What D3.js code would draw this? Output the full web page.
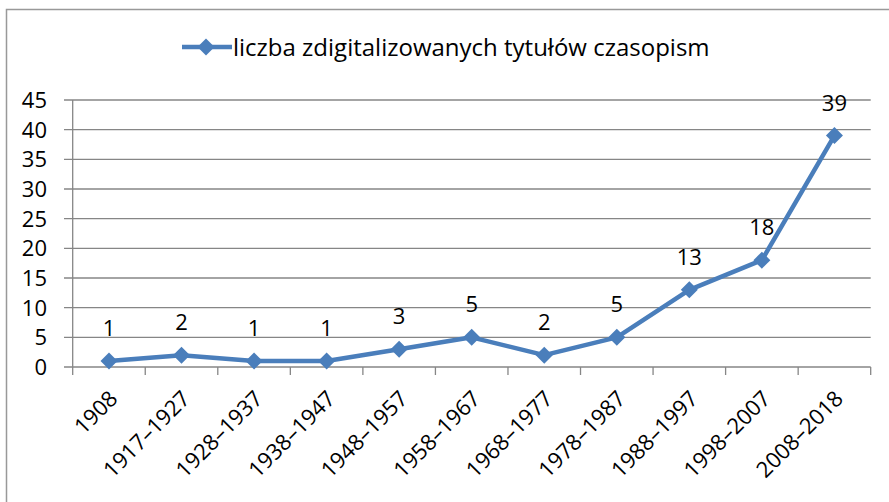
<!DOCTYPE html>
<html>
<head>
<meta charset="utf-8">
<script src="https://cdn.jsdelivr.net/npm/d3@7"></script>
<style>
  body { margin: 0; background: #fff; }
  text { font-family: "Open Sans", sans-serif; fill: #000; }
</style>
</head>
<body>
<script>
const categories = ["1908", "1917–1927", "1928–1937", "1938–1947", "1948–1957", "1958–1967",
                    "1968–1977", "1978–1987", "1988–1997", "1998–2007", "2008–2018"];
const values = [1, 2, 1, 1, 3, 5, 2, 5, 13, 18, 39];
const yTicks = [0, 5, 10, 15, 20, 25, 30, 35, 40, 45];
const seriesName = "liczba zdigitalizowanych tytułów czasopism";

const width = 889;
const height = 502;
const blue = "#4A7EBB";
const grid = "#868686";

const svg = d3.select("body").append("svg")
  .attr("width", width)
  .attr("height", height);

// chart frame (only left and top edges are inside the picture)
svg.append("path")
  .attr("d", "M6.5,502V9.5H889")
  .attr("fill", "none")
  .attr("stroke", "#999")
  .attr("stroke-width", 1.5);

const x = d3.scaleBand()
  .domain(categories)
  .range([72.7, 870.7]);

const y = d3.scaleLinear()
  .domain([0, 45])
  .range([367, 100]);

// gridlines + y ticks
svg.append("g")
  .selectAll("line")
  .data(yTicks)
  .join("line")
  .attr("x1", 64)
  .attr("x2", 870.7)
  .attr("y1", d => y(d))
  .attr("y2", d => y(d))
  .attr("stroke", grid)
  .attr("stroke-width", 1.3);

svg.append("g")
  .selectAll("text")
  .data(yTicks)
  .join("text")
  .attr("x", 47)
  .attr("y", d => y(d))
  .attr("dy", "0.36em")
  .attr("text-anchor", "end")
  .attr("font-size", 22)
  .text(d => d);

// y axis line
svg.append("line")
  .attr("x1", 72.7).attr("x2", 72.7)
  .attr("y1", y(45)).attr("y2", y(0))
  .attr("stroke", grid)
  .attr("stroke-width", 1.3);

// x axis tick marks at category boundaries
const bounds = categories.map(c => x(c)).concat([x.range()[1]]);
svg.append("g")
  .selectAll("line")
  .data(bounds)
  .join("line")
  .attr("x1", d => d).attr("x2", d => d)
  .attr("y1", y(0)).attr("y2", y(0) + 8)
  .attr("stroke", grid)
  .attr("stroke-width", 1.3);

// x labels, rotated
svg.append("g")
  .selectAll("text")
  .data(categories)
  .join("text")
  .attr("text-anchor", "end")
  .attr("font-size", 22)
  .attr("transform", d => `translate(${x(d) + x.bandwidth() / 2 + 10},${y(0) + 33}) rotate(-45)`)
  .text(d => d);

// series line
const cx = d => x(d) + x.bandwidth() / 2;
const pts = categories.map((c, i) => [cx(c), y(values[i])]);

svg.append("path")
  .attr("d", d3.line()(pts))
  .attr("fill", "none")
  .attr("stroke", blue)
  .attr("stroke-width", 4.5)
  .attr("stroke-linejoin", "round");

const diamond = (px, py, r) => `M${px},${py - r}L${px + r},${py}L${px},${py + r}L${px - r},${py}Z`;

svg.append("g")
  .selectAll("path")
  .data(pts)
  .join("path")
  .attr("d", d => diamond(d[0], d[1], 8.5))
  .attr("fill", blue);

// data labels
svg.append("g")
  .selectAll("text")
  .data(values)
  .join("text")
  .attr("x", (d, i) => cx(categories[i]))
  .attr("y", d => y(d) - 25)
  .attr("text-anchor", "middle")
  .attr("font-size", 22)
  .text(d => d);

// legend
const leg = svg.append("g");
leg.append("line")
  .attr("x1", 182).attr("x2", 232)
  .attr("y1", 47).attr("y2", 47)
  .attr("stroke", blue)
  .attr("stroke-width", 4.5);
leg.append("path")
  .attr("d", diamond(206, 47, 8.5))
  .attr("fill", blue);
leg.append("text")
  .attr("x", 233)
  .attr("y", 47)
  .attr("dy", "0.36em")
  .attr("font-size", 24)
  .text(seriesName);
</script>
</body>
</html>
